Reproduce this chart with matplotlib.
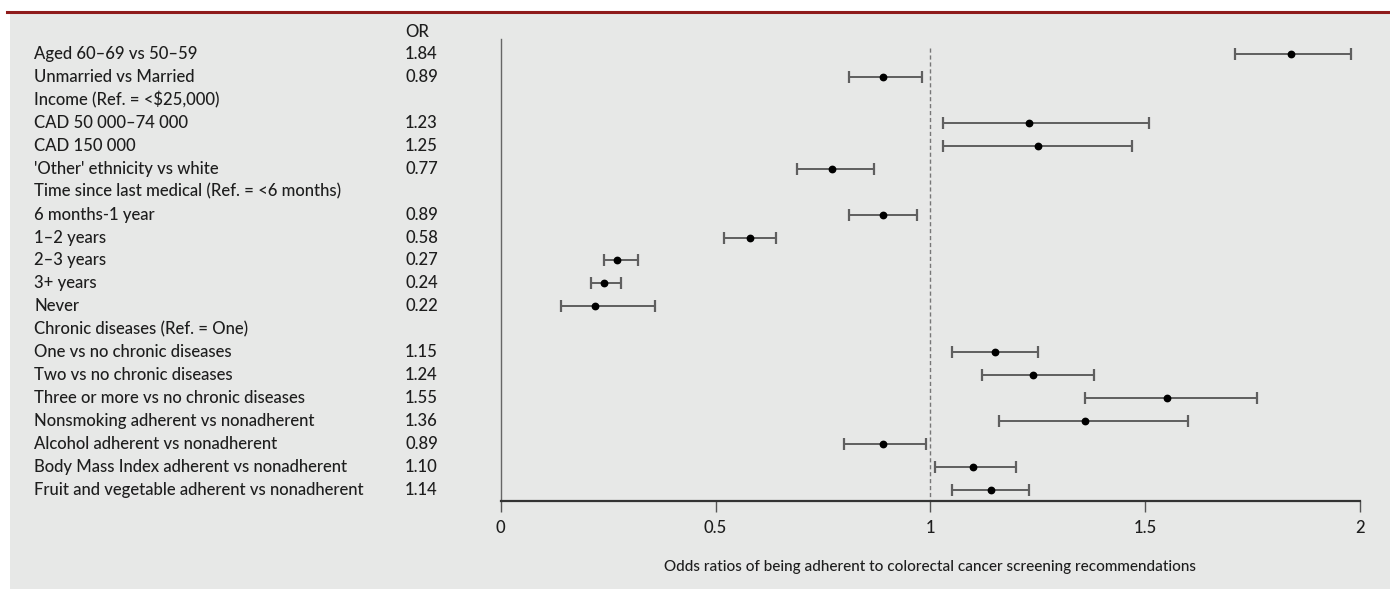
import numpy as np
import matplotlib.pyplot as plt
from matplotlib.patches import Rectangle
from matplotlib.lines import Line2D
from matplotlib.transforms import blended_transform_factory

# rows of the forest plot (headers have no estimate)
labels = [
    "Aged 60\u201369 vs 50\u201359",
    "Unmarried vs Married",
    "Income (Ref. = <$25,000)",
    "CAD 50 000\u201374 000",
    "CAD 150 000",
    "'Other' ethnicity vs white",
    "Time since last medical (Ref. = <6 months)",
    "6 months-1 year",
    "1\u20132 years",
    "2\u20133 years",
    "3+ years",
    "Never",
    "Chronic diseases (Ref. = One)",
    "One vs no chronic diseases",
    "Two vs no chronic diseases",
    "Three or more vs no chronic diseases",
    "Nonsmoking adherent vs nonadherent",
    "Alcohol adherent vs nonadherent",
    "Body Mass Index adherent vs nonadherent",
    "Fruit and vegetable adherent vs nonadherent",
]
odds = [1.84, 0.89, np.nan, 1.23, 1.25, 0.77, np.nan, 0.89, 0.58, 0.27, 0.24, 0.22,
        np.nan, 1.15, 1.24, 1.55, 1.36, 0.89, 1.10, 1.14]
lower = [1.71, 0.81, np.nan, 1.03, 1.03, 0.69, np.nan, 0.81, 0.52, 0.24, 0.21, 0.14,
         np.nan, 1.05, 1.12, 1.36, 1.16, 0.80, 1.01, 1.05]
upper = [1.98, 0.98, np.nan, 1.51, 1.47, 0.87, np.nan, 0.97, 0.64, 0.32, 0.28, 0.36,
         np.nan, 1.25, 1.38, 1.76, 1.60, 0.99, 1.20, 1.23]
xticks = [0, 0.5, 1, 1.5, 2]
xtick_labels = ["0", "0.5", "1", "1.5", "2"]
xlabel = "Odds ratios of being adherent to colorectal cancer screening recommendations"

W, H = 1390, 589
bg = "#e7e8e7"
ink = "#1e1e1e"
label_font = ["Lato", "DejaVu Sans"]

fig = plt.figure(figsize=(W / 100, H / 100), dpi=100, facecolor="white")

# gray panel and dark red rule at the top
fig.patches.append(Rectangle((10 / W, 0), 1 - 10 / W, 1 - 13 / H, transform=fig.transFigure,
                             facecolor=bg, edgecolor="none", zorder=-10))
fig.lines.append(Line2D([7 / W, 1], [1 - 12 / H, 1 - 12 / H], transform=fig.transFigure,
                        color="#8e1b1b", lw=2.2, zorder=-5))

ax = fig.add_axes([500.7 / W, 1 - 500.7 / H, (1360 - 500.7) / W, (500.7 - 39) / H])
ax.set_facecolor("none")

rows = np.arange(len(labels))
odds = np.array(odds)
lower = np.array(lower)
upper = np.array(upper)
ok = ~np.isnan(odds)

ax.errorbar(odds[ok], rows[ok], xerr=[odds[ok] - lower[ok], upper[ok] - odds[ok]],
            fmt="o", color="black", ms=4.6, ecolor="#5f5f5f", elinewidth=1.4,
            capsize=4, capthick=1.6, zorder=3)
ax.plot([1, 1], [-0.27, 19.47], color="#777777", lw=1, ls=(0, (3, 2)), zorder=2)

ax.set_xlim(0, 2)
ax.set_ylim(19.47, -0.654)
ax.set_yticks([])
ax.set_xticks(xticks)
ax.set_xticklabels(xtick_labels, family=label_font, fontsize=12, color=ink, weight=500)
ax.tick_params(axis="x", direction="out", length=8, width=1, color="#555555", pad=6)
ax.spines["top"].set_visible(False)
ax.spines["right"].set_visible(False)
ax.spines["left"].set_color("#666666")
ax.spines["left"].set_linewidth(1)
ax.spines["bottom"].set_color("#333333")
ax.spines["bottom"].set_linewidth(1.6)
ax.set_xlabel(xlabel, family=label_font, fontsize=11, color=ink, weight=500, labelpad=17)

# text columns on the left
tr = blended_transform_factory(fig.transFigure, ax.transData)
ax.text(405 / W, -0.96, "OR", transform=tr, family=label_font, fontsize=12,
        color=ink, weight=500, va="center", ha="left", clip_on=False)
for i, lab in enumerate(labels):
    ax.text(34 / W, i, lab, transform=tr, family=label_font, fontsize=12,
            color=ink, weight=500, va="center", ha="left", clip_on=False)
    if ok[i]:
        ax.text(405 / W, i, f"{odds[i]:.2f}", transform=tr, family=label_font,
                fontsize=12, color=ink, weight=500, va="center", ha="left", clip_on=False)

fig.savefig("out.png", dpi=100, facecolor="white")
